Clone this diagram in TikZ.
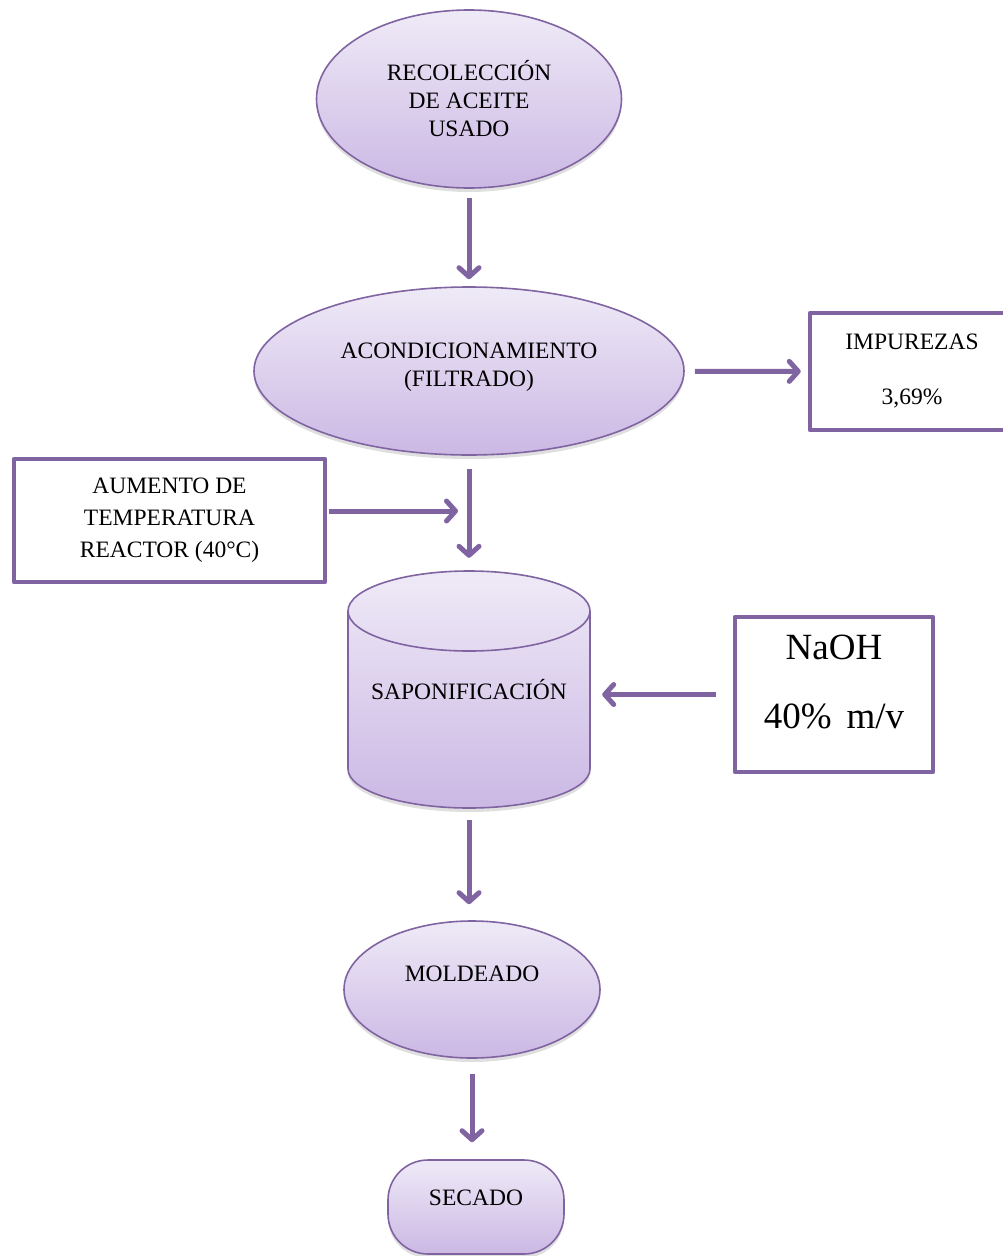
\documentclass[tikz,border=0pt]{standalone}
\usepackage{fontspec}
\setmainfont{Liberation Serif}
\usepackage{tikz}
\usetikzlibrary{arrows.meta,positioning,calc,shapes.geometric,shadows}
\usepackage{xcolor}
\definecolor{borde}{HTML}{8064A2}
\definecolor{lilaclaro}{HTML}{EFEAF7}
\definecolor{lilaoscuro}{HTML}{CBB8E4}

\begin{document}
\begin{tikzpicture}[x=1pt,y=-1pt,
  proceso/.style={ellipse,draw=borde,line width=1.6pt,top color=lilaclaro,
    bottom color=lilaoscuro,align=center,inner sep=0pt,
    font=\fontsize{23.5}{28}\selectfont,
    drop shadow={opacity=0.25,shadow xshift=0pt,shadow yshift=-4pt}},
  caja/.style={rectangle,draw=borde,line width=4.5pt,line join=round,
    fill=white,align=center,font=\fontsize{23.5}{28}\selectfont},
  flecha/.style={draw=borde,line width=5pt,
    -{Straight Barb[length=9pt,width=20pt,round]}}]
  \useasboundingbox (0,0) rectangle (1003,1256);
  % etapas del proceso
  \node[proceso,minimum width=305pt,minimum height=178pt] (recol) at (469,99)
    {RECOLECCIÓN\\DE ACEITE\\USADO};
  \node[proceso,minimum width=430pt,minimum height=168pt] (acond) at (469,371)
    {ACONDICIONAMIENTO\\(FILTRADO)\\[-16pt]\mbox{}};
  \node[caja,minimum width=204pt,minimum height=117pt] (impur) at (912,371.5)
    {IMPUREZAS\\[27pt]3,69\%};
  \node[caja,minimum width=311pt,minimum height=123pt,
        font=\fontsize{23.5}{32}\selectfont] (aumento) at (169.5,520.5)
    {AUMENTO DE\\TEMPERATURA\\REACTOR (40°C)};
  % reactor (cilindro)
  \path[draw=borde,line width=1.6pt,top color=lilaclaro,bottom color=lilaoscuro,
        drop shadow={opacity=0.25,shadow xshift=0pt,shadow yshift=-4pt}]
    (348,611) -- (348,769) arc[start angle=180,end angle=0,x radius=121,y radius=39]
    -- (590,611) arc[start angle=0,end angle=-180,x radius=121,y radius=40] -- cycle;
  \draw[borde,line width=1.6pt]
    (348,611) arc[start angle=180,end angle=0,x radius=121,y radius=40];
  \node[minimum width=242pt,minimum height=237pt,
        font=\fontsize{23.5}{28}\selectfont] (sapon) at (469,689.5)
    {SAPONIFICACIÓN};
  \node[caja,minimum width=198pt,minimum height=155pt,
        font=\fontsize{37}{69}\selectfont] (naoh) at (834,694.5)
    {NaOH\\40\%\hspace{0.4em}m/v\\[-44pt]\mbox{}};
  \node[proceso,minimum width=256pt,minimum height=137pt] (molde) at (472,989.5)
    {MOLDEADO\\[3pt]\mbox{}};
  \node[proceso,rectangle,rounded corners=40pt,minimum width=176pt,
        minimum height=94pt] (secado) at (476,1207)
    {SECADO\\[-10pt]\mbox{}};
  % flechas
  \coordinate (junta) at (458,511);
  \draw[flecha,shorten <=9pt,shorten >=7pt] (recol) -- (acond);
  \draw[flecha,shorten <=10pt,shorten >=7pt] (acond) -- (impur);
  \draw[flecha,shorten <=13pt,shorten >=13pt] (acond.south) -- (sapon.north);
  \draw[flecha,shorten <=2pt] (aumento.east |- junta) -- (junta);
  \draw[flecha,shorten <=17pt,shorten >=12pt] (naoh.west) -- (naoh.west -| sapon.east);
  \draw[flecha,shorten <=12pt,shorten >=16pt] (sapon.south) -- (sapon.south |- molde.north);
  \draw[flecha,shorten <=15pt,shorten >=17pt] (molde.south) -- (molde.south |- secado.north);
\end{tikzpicture}
\end{document}
